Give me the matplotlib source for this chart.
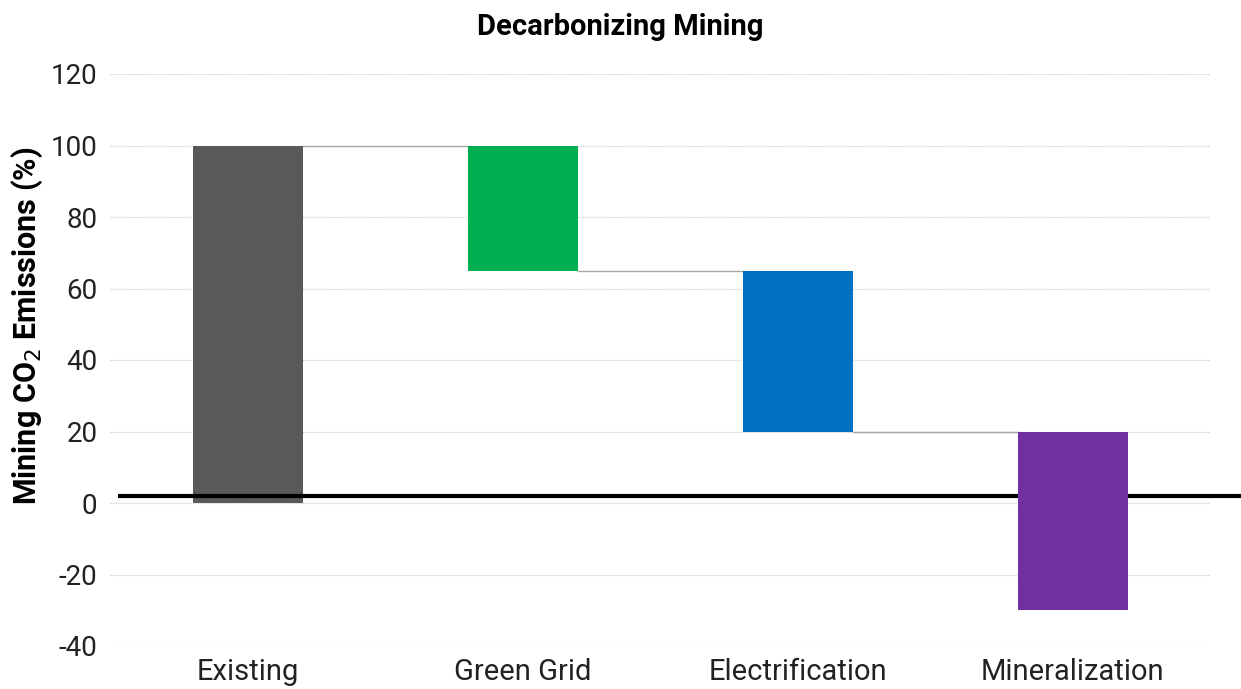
import matplotlib.pyplot as plt
import numpy as np

plt.rcParams['font.family'] = ['Roboto', 'DejaVu Sans']
plt.rcParams['axes.unicode_minus'] = False

categories = ['Existing', 'Green Grid', 'Electrification', 'Mineralization']
bottoms = [0, 65, 20, -30]
tops = [100, 100, 65, 20]
colors = ['#595959', '#00b050', '#0070c0', '#7030a0']
connector_levels = [100, 65, 20]
baseline_value = 2

fig = plt.figure(figsize=(12.41, 6.89), dpi=100)
ax = fig.add_axes([110 / 1241, 1 - 646 / 689, 1100 / 1241, 572 / 689])

x = np.arange(len(categories))
heights = np.array(tops) - np.array(bottoms)
width = 0.4

for i in range(len(categories)):
    z = 2 if i == 0 else 4
    ax.bar(x[i], heights[i], bottom=bottoms[i], width=width, color=colors[i], zorder=z)

# connectors between bars
for i, lvl in enumerate(connector_levels):
    ax.plot([x[i] + width / 2, x[i + 1] - width / 2], [lvl, lvl], color='#a6a6a6', lw=1.0, zorder=1.5)

# thick black line near zero
ax.plot([-0.47, 3.62], [baseline_value, baseline_value], color='black', lw=3, zorder=3, clip_on=False,
        solid_capstyle='butt')

ax.set_xlim(-0.5, 3.5)
ax.set_ylim(-40, 120)
ax.set_yticks(np.arange(-40, 121, 20))
ax.yaxis.grid(True, color='#cccccc', linestyle=(0, (1, 1)), lw=0.9, zorder=0)
ax.set_axisbelow(True)
for s in ax.spines.values():
    s.set_visible(False)
ax.tick_params(axis='y', length=0, labelsize=20, pad=9, labelcolor='#222222')
ax.tick_params(axis='x', length=0, labelsize=21, pad=9, labelcolor='#222222')
ax.set_xticks(x)
ax.set_xticklabels(categories)

ax.set_ylabel('Mining CO$_2$ Emissions (%)', fontsize=22, fontweight='bold')
ax.yaxis.set_label_coords(-0.059, 0.56)
fig.text(0.5, 1 - 27 / 689, 'Decarbonizing Mining', ha='center', va='center', fontsize=21, fontweight='bold')

fig.savefig('out.png', dpi=100)
